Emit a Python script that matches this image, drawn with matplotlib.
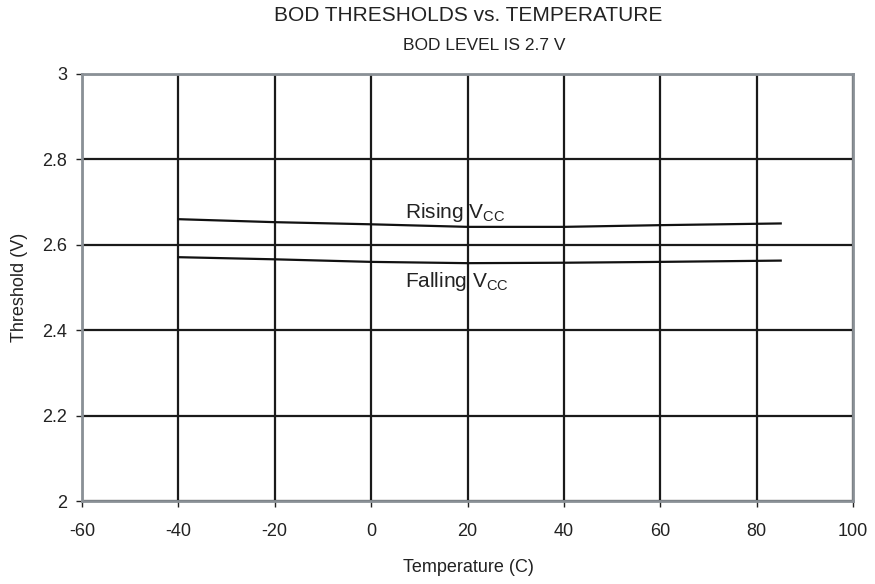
import matplotlib.pyplot as plt

plt.rcParams['font.family'] = ['Liberation Sans', 'DejaVu Sans']
plt.rcParams['axes.unicode_minus'] = False

temps = [-40, -20, 0, 20, 40, 60, 85]
rising = [2.660, 2.653, 2.648, 2.642, 2.642, 2.646, 2.650]
falling = [2.571, 2.566, 2.560, 2.557, 2.558, 2.560, 2.563]

fig = plt.figure(figsize=(8.75, 5.84), dpi=100)
ax = fig.add_axes([82 / 875, 1 - 501 / 584, 771 / 875, 427 / 584])

ax.plot(temps, rising, color='#111111', linewidth=1.6)
ax.plot(temps, falling, color='#111111', linewidth=1.6)

ax.set_xlim(-60, 100)
ax.set_ylim(2, 3)
ax.set_xticks(range(-60, 101, 20))
ax.set_yticks([2, 2.2, 2.4, 2.6, 2.8, 3])
ax.set_yticklabels(['2', '2.2', '2.4', '2.6', '2.8', '3'])
ax.grid(True, color='#1a1a1a', linewidth=1.6)
ax.set_axisbelow(True)

for side in ['top', 'right', 'left', 'bottom']:
    ax.spines[side].set_color('#8a9096')
    ax.spines[side].set_linewidth(2)
ax.tick_params(colors='#222222', labelsize=13, length=4.5, width=1)
ax.tick_params(axis='x', pad=11)
ax.tick_params(axis='y', pad=6)

# curve labels
ax.text(7, 2.663, r'Rising V$_{\mathregular{CC}}$', fontsize=15, va='baseline', color='#222222')
ax.text(7, 2.501, r'Falling V$_{\mathregular{CC}}$', fontsize=15, va='baseline', color='#222222')

# axis labels and titles
fig.text(468 / 875, 1 - 568 / 584, 'Temperature (C)', ha='center', va='center',
         fontsize=13, color='#222222')
fig.text(20 / 875, 1 - 287 / 584, 'Threshold (V)', ha='center', va='center',
         rotation=90, fontsize=13, color='#222222')
fig.text(468 / 875, 1 - 15.5 / 584, 'BOD THRESHOLDS vs. TEMPERATURE', ha='center', va='center',
         fontsize=15, color='#222222')
fig.text(484 / 875, 1 - 45.5 / 584, 'BOD LEVEL IS 2.7 V', ha='center', va='center',
         fontsize=12.5, color='#222222')

fig.savefig('out.png', dpi=100)
